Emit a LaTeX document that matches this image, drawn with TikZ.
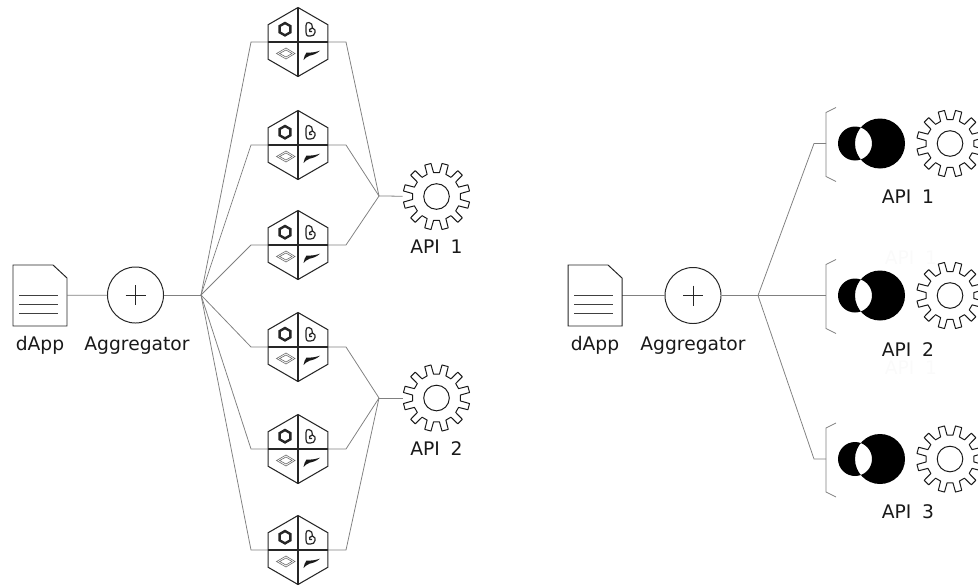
\documentclass[tikz,border=0pt]{standalone}
\usepackage{fontspec}
\setmainfont[WordSpace=1.8]{DejaVu Sans}
\usetikzlibrary{positioning,shapes.geometric}

\tikzset{
    wire/.style={draw=black!50, line width=0.55pt},
    lbl/.style={font=\fontsize{13.3}{15}\selectfont, inner sep=0pt, text=black!90},
    ghost/.style={font=\fontsize{13.3}{15}\selectfont, inner sep=0pt, text=black!2},
    docbox/.style={rectangle, minimum width=1.35cm, minimum height=1.525cm, inner sep=0pt},
    addbox/.style={circle, draw=black!85, line width=0.7pt, minimum size=1.4cm, inner sep=0pt},
    hexbox/.style={regular polygon, regular polygon sides=6, shape border rotate=30, draw=black!85, fill=white,
        line width=0.75pt, minimum size=1.725cm, inner sep=0pt},
    gearbox/.style={circle, minimum size=1.675cm, inner sep=0pt},
    pics/docicon/.style={code={
        \draw[black!85, line width=0.7pt] (-27,-30.5) -- (13,-30.5) -- (27,-17.5) -- (27,30.5) -- (-27,30.5) -- cycle;
        \draw[black!75, line width=0.6pt] (-21,0) -- (18,0) (-21,9) -- (18,9) (-21,18) -- (18,18);
    }},
    pics/gearicon/.style={code={
        \draw[black!90, line width=0.7pt, line join=round, fill=white] (7:24)
            \foreach \a in {15,45,...,345} { -- (\a-8:24) -- (\a-5.5:33.5) -- (\a+5.5:33.5) -- (\a+8:24) } -- cycle;
        \draw[black!90, line width=0.7pt] (0,0) circle[radius=12.8];
    }},
    pics/hexicon/.style={code={
        \draw[black!85, line width=0.75pt] (0,-34.5) -- (0,34.5) (-30,0) -- (30,0);
        % top left
        \draw[black!85, line width=1.7pt] (-13,-19) -- (-7.6,-15.9) -- (-7.6,-9.7) -- (-13,-6.6) -- (-18.4,-9.7) -- (-18.4,-15.9) -- cycle;
        % top right
        \draw[black!85, line width=0.85pt, line join=round] (8,-16.5) .. controls (8,-19) and (9,-19.5) .. (11,-19.5)
            .. controls (13.5,-19.5) and (14.5,-17) .. (14.5,-14) .. controls (17,-13.5) and (17.5,-11) .. (17,-9.5)
            .. controls (16.5,-7) and (15,-6) .. (12.5,-6) -- (10,-6) .. controls (8.5,-6) and (8,-8) .. (8,-10) -- cycle
            (14.5,-14) -- (11.5,-12.5) .. controls (10.5,-10.5) and (12.5,-9.5) .. (14,-10.5);
        % bottom left
        \draw[black!60, line width=0.4pt] (-21.5,11.5) -- (-12,6) -- (-3,11.5) -- (-12,17) -- cycle
            (-18.5,11.5) -- (-12,8) -- (-6,11.5) -- (-12,15) -- cycle;
        % bottom right
        \fill[black!90] (5.5,18) .. controls (6,15) and (7,12.5) .. (8.5,10.5) .. controls (13,11) and (18,10) .. (22,8.7)
            .. controls (18,12.5) and (14,13) .. (11.5,13.7) .. controls (9,14.5) and (7,16.5) .. (5.5,18) -- cycle;
    }},
    pics/vennicon/.style={code={
        \fill[black, even odd rule] (-25,0) circle[radius=17] (0,0) circle[radius=25];
        \draw[black!50, line width=0.6pt] (-44,-36) -- (-54,-31) -- (-54,33) -- (-44,38);
    }}
}

\begin{document}
\begin{tikzpicture}[x=0.025cm, y=-0.025cm]
    \useasboundingbox (0,0) rectangle (978,585);

    % left side
    \node[docbox] (docL) at (40,295.5) {};
    \node[addbox] (addL) at (135.5,295) {};
    \coordinate (hubL) at (201,295);
    \coordinate (joinA) at (379,196);
    \coordinate (joinB) at (379,398);
    \node[gearbox] (gearA) at (436.5,196.5) {};
    \node[gearbox] (gearB) at (436.5,398) {};

    \draw[wire] (docL) -- (addL);
    \draw[wire] (addL) -- (hubL);
    \draw[wire] (joinA) -- (gearA);
    \draw[wire] (joinB) -- (gearB);

    \foreach \n/\y/\j in {A/42/joinA, B/145/joinA, C/245/joinA, D/347/joinB, E/449/joinB, F/550/joinB} {
        \coordinate (tap\n l) at (251,\y);
        \coordinate (tap\n r) at (346,\y);
        \draw[wire] (hubL) -- (tap\n l) -- (tap\n r) -- (\j);
        \node[hexbox] (hex\n) at (298,\y) {};
        \pic at (hex\n) {hexicon};
    }

    \pic at (docL) {docicon};
    \pic at (gearA) {gearicon};
    \pic at (gearB) {gearicon};

    \draw[black!85, line width=0.6pt] (addL.center) +(-10,0) -- +(10,0) +(0,-10) -- +(0,10);

    \node[lbl] (lblDocL) at (40,345.5) {dApp};
    \node[lbl] (lblAddL) at (137,345.5) {Aggregator};
    \node[lbl] (lblGearA) at (436.5,247) {API 1};
    \node[lbl] (lblGearB) at (436.5,449) {API 2};

    % right side
    \node[docbox] (docR) at (595,295.5) {};
    \node[addbox] (addR) at (693,295.5) {};
    \coordinate (hubR) at (758,295.5);

    \draw[wire] (docR) -- (addR);
    \draw[wire] (addR) -- (hubR);
    \pic at (docR) {docicon};

    \node[ghost] (ghostA) at (911,258) {API 1};
    \node[ghost] (ghostB) at (911,368) {API 1};

    \foreach \n/\y/\b in {A/143.5/814, B/295.5/800, C/459/814} {
        \coordinate (stem\n) at (\b,\y);
        \coordinate (brk\n) at (826,\y);
        \draw[wire] (hubR) -- (stem\n) -- (brk\n);
        \coordinate (venn\n) at (880,\y);
        \pic at (venn\n) {vennicon};
        \node[gearbox] (gearR\n) at (950,\y) {};
        \pic at (gearR\n) {gearicon};
    }

    \draw[black!85, line width=0.6pt] (addR.center) +(-10,0) -- +(10,0) +(0,-10) -- +(0,10);

    \node[lbl] (lblDocR) at (595,345.5) {dApp};
    \node[lbl] (lblAddR) at (693,345.5) {Aggregator};
    \node[lbl] (lblGearRA) at (908,197) {API 1};
    \node[lbl] (lblGearRB) at (908,350) {API 2};
    \node[lbl] (lblGearRC) at (908,512) {API 3};
\end{tikzpicture}
\end{document}
